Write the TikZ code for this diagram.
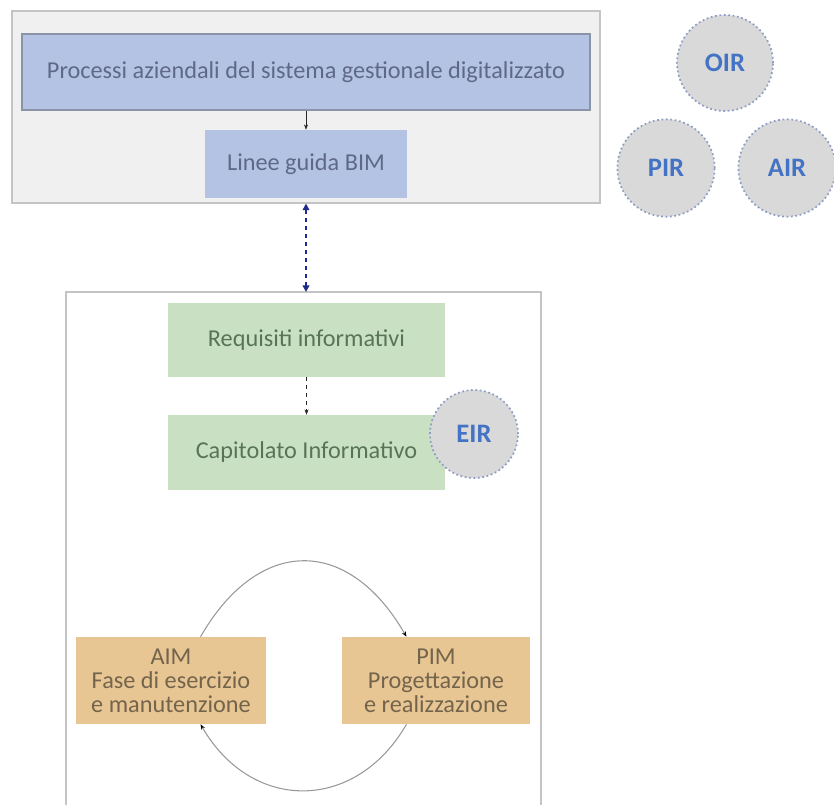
\documentclass[tikz,border=0pt]{standalone}
\usepackage{fontspec}
\setmainfont{Carlito}
\usetikzlibrary{arrows.meta}
\definecolor{frameFill}{HTML}{F0F0F0}
\definecolor{frameLine}{HTML}{C4C4C4}
\definecolor{procFill}{HTML}{B4C3E3}
\definecolor{procLine}{HTML}{8A93A8}
\definecolor{procText}{HTML}{5F6987}
\definecolor{reqFill}{HTML}{C9E1C2}
\definecolor{reqText}{HTML}{587456}
\definecolor{phaseFill}{HTML}{E8C693}
\definecolor{phaseText}{HTML}{73644C}
\definecolor{circFill}{HTML}{D9D9D9}
\definecolor{circLine}{HTML}{8C9CC4}
\definecolor{circText}{HTML}{4472C4}
\definecolor{linkBlue}{HTML}{1F2A8C}

\tikzset{
    boxtext/.style={font=\fontsize{18.2}{18}\selectfont},
    procbox/.style={boxtext,fill=procFill,text=procText},
    reqbox/.style={boxtext,fill=reqFill,text=reqText,minimum width=207.75,minimum height=55.5},
    phasebox/.style={boxtext,fill=phaseFill,text=phaseText,align=center,minimum width=142,minimum height=65.25},
    irc/.style={circle,fill=circFill,draw=circLine,dotted,line width=1.3pt,text=circText,
        font=\fontsize{20}{22}\selectfont\bfseries,minimum size=#1},
    loopline/.style={draw=gray!80,line width=0.8pt,-{Stealth[length=4pt,width=3pt,black]}}
}

\begin{document}
\begin{tikzpicture}[x=0.75pt,y=-0.75pt]
    \useasboundingbox (0,0) rectangle (834,805);

    % upper block
    \node at (306,107) [fill=frameFill,draw=frameLine,line width=0.8pt,minimum width=441,minimum height=144] (top-frame) {};
    \node at (306,72) [procbox,draw=procLine,line width=0.8pt,minimum width=426,minimum height=57] (processi) {Processi aziendali del sistema gestionale digitalizzato};
    \node at (306,164) [procbox,minimum width=151.5,minimum height=51] (linee-guida) {Linee guida BIM};
    \draw[gray!30!black,-{Stealth[length=4pt,width=3pt]}] (processi) -- (linee-guida);

    \node at (725,63) [irc=72] (oir) {OIR};
    \node at (666,168) [irc=73] (pir) {PIR};
    \node at (787,168) [irc=73] (air) {AIR};

    % lower block
    \draw[frameLine,line width=0.8pt] (66,805) -- (66,292) -- (541,292) -- (541,805);
    \coordinate (low-top) at (306,292);
    \draw[linkBlue,line width=1.4pt,dashed,{Triangle[length=5pt,width=5pt]}-{Triangle[length=5pt,width=5pt]}] (top-frame.south) -- (low-top);

    \node at (306.5,340) [reqbox] (requisiti) {Requisiti informativi};
    \node at (306.5,452.5) [reqbox,minimum height=56.25] (capitolato) {Capitolato Informativo};
    \draw[gray!30!black,dashed,-{Stealth[length=4pt,width=3pt]}] (requisiti) -- (capitolato);
    \node at (474,434) [irc=66] (eir) {EIR};

    \node at (171,680.5) [phasebox] (aim) {AIM\\Fase di esercizio\\e manutenzione};
    \node at (436,680.5) [phasebox,minimum width=141] (pim) {PIM\\Progettazione\\e realizzazione};
    \draw[loopline] (aim.56) to[out=60,in=120,looseness=1.45] (pim.124);
    \draw[loopline] (pim.-124) to[out=-120,in=-60,looseness=1.27] (aim.-56);
\end{tikzpicture}
\end{document}
